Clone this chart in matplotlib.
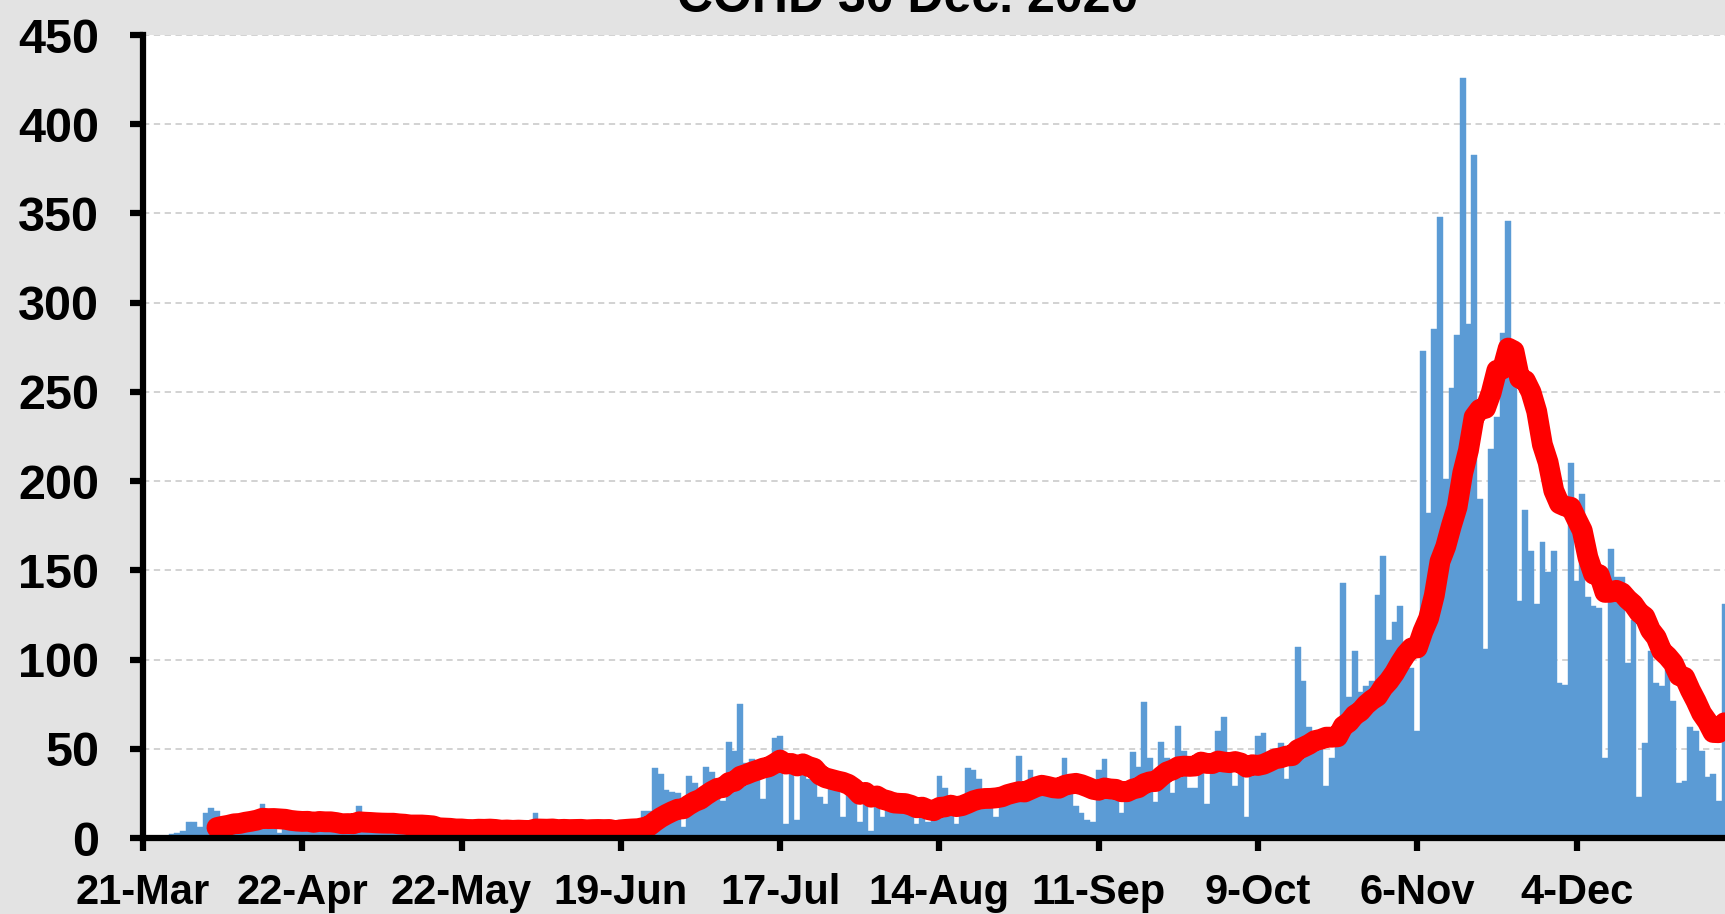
import matplotlib
matplotlib.use("Agg")
import matplotlib.pyplot as plt
import numpy as np
import pandas as pd

title = "COHD 30 Dec. 2020"
tick_labels = ["21-Mar", "22-Apr", "22-May", "19-Jun", "17-Jul",
               "14-Aug", "11-Sep", "9-Oct", "6-Nov", "4-Dec"]
tick_step = 28          # one labelled category every 28 days
ma_window = 14          # moving-average period of the red trend line
y_ticks = [0, 50, 100, 150, 200, 250, 300, 350, 400, 450]

# daily counts (one value per category)
daily_mar_apr = [0, 0, 1, 1, 1, 2, 3, 4, 9, 9, 6, 14, 17, 15,
                 10, 8, 12, 4, 11, 9, 12, 19, 6, 10, 3, 11, 8, 10, 7, 9,
                 4, 11, 8, 9, 6, 10, 7, 9, 18, 8, 6]
daily_may_jun = [7, 5, 8, 4, 6, 5, 3, 6, 10, 4, 5, 3, 6, 4, 2, 5, 4, 3, 9, 4,
                 5, 3, 4, 6, 2, 5, 4, 3, 14, 4, 3, 5, 4, 6, 3, 4, 5, 2, 4, 6,
                 3, 4, 5, 10, 7, 8, 6, 15, 15]
daily_jun_aug = [39, 36, 27, 26, 25, 6, 35, 31, 28, 40, 37, 30, 21, 54, 49, 75,
                 42, 44, 40, 22, 45, 56, 57, 8, 42, 10, 38, 33, 35, 23, 19, 32,
                 28, 12, 28, 25, 9, 24, 4, 20, 12, 21, 18, 20, 17, 19, 8, 17,
                 9, 16, 35, 28, 18, 8, 20, 39, 38, 33, 22, 20, 12, 25, 27, 28, 46]
daily_aug_oct = [25, 38, 28, 33, 30, 27, 29, 45, 30, 18, 14, 10, 9, 38, 44, 30,
                 25, 14, 30, 48, 40, 76, 45, 20, 54, 45, 25, 63, 49, 28, 28, 45,
                 19, 47, 60, 68, 40, 29, 42, 12, 45, 57, 59, 48, 50, 53, 33, 50,
                 107, 88, 62, 58, 52, 29, 45, 60, 143, 79, 105, 82, 85, 88, 136,
                 158, 111, 121, 130, 98, 95, 60]
daily_nov_dec = [273, 182, 285, 348, 201, 252, 282, 426, 288, 383, 190, 106, 218,
                 236, 283, 346, 262, 133, 184, 161, 131, 166, 149, 161, 87, 86,
                 210, 144, 193, 135, 130, 129, 45, 162, 146, 146, 98, 122, 23, 53,
                 105, 87, 85, 94, 77, 31, 32, 62, 60, 49, 34, 36, 21, 131]

daily = np.array(daily_mar_apr + daily_may_jun + daily_jun_aug
                 + daily_aug_oct + daily_nov_dec, dtype=float)
idx = np.arange(len(daily))
trend = pd.Series(daily).rolling(ma_window).mean()

W, H = 1725, 914
fig = plt.figure(figsize=(W / 100, H / 100), dpi=100, facecolor="#E3E3E3")
left_px, right_px, top_px, bottom_px = 143, 1725, 35, 838
ax = fig.add_axes([left_px / W, (H - bottom_px) / H,
                   (right_px - left_px) / W, (bottom_px - top_px) / H])
ax.set_facecolor("white")

ax.bar(idx, daily, width=1.0, color="#5B9BD5", edgecolor="#5B9BD5",
       linewidth=0.3, zorder=2)
ax.plot(idx, trend, color="#FF0000", linewidth=15, solid_capstyle="round",
        solid_joinstyle="round", zorder=3)

ax.set_xlim(0, 278.1)
ax.set_ylim(0, 450)
ax.set_yticks(y_ticks)
ax.set_yticklabels([str(v) for v in y_ticks])
tick_pos = [i * tick_step for i in range(len(tick_labels))]
ax.set_xticks(tick_pos)
ax.set_xticklabels(tick_labels)

ax.yaxis.grid(True, color="#CFCFCF", linestyle=(0, (3.5, 2.5)), linewidth=1.3, zorder=0)
ax.set_axisbelow(True)

for s in ["top", "right"]:
    ax.spines[s].set_visible(False)
for s in ["left", "bottom"]:
    ax.spines[s].set_color("black")
    ax.spines[s].set_linewidth(4.5)
    ax.spines[s].set_zorder(5)

font = "Liberation Sans"
ax.tick_params(axis="both", direction="out", length=9.5, width=4.5, color="black")
ax.tick_params(axis="y", pad=22)
ax.tick_params(axis="x", pad=16)
for lab in ax.get_xticklabels():
    lab.set_fontfamily(font)
    lab.set_fontweight("bold")
    lab.set_fontsize(30)
for lab in ax.get_yticklabels():
    lab.set_fontfamily(font)
    lab.set_fontweight("bold")
    lab.set_fontsize(35)

fig.text(908 / W, 1 - 12 / H, title, ha="center", va="baseline",
         fontsize=36, fontweight="bold", fontfamily=font)

fig.savefig("out.png", dpi=100, facecolor=fig.get_facecolor())
